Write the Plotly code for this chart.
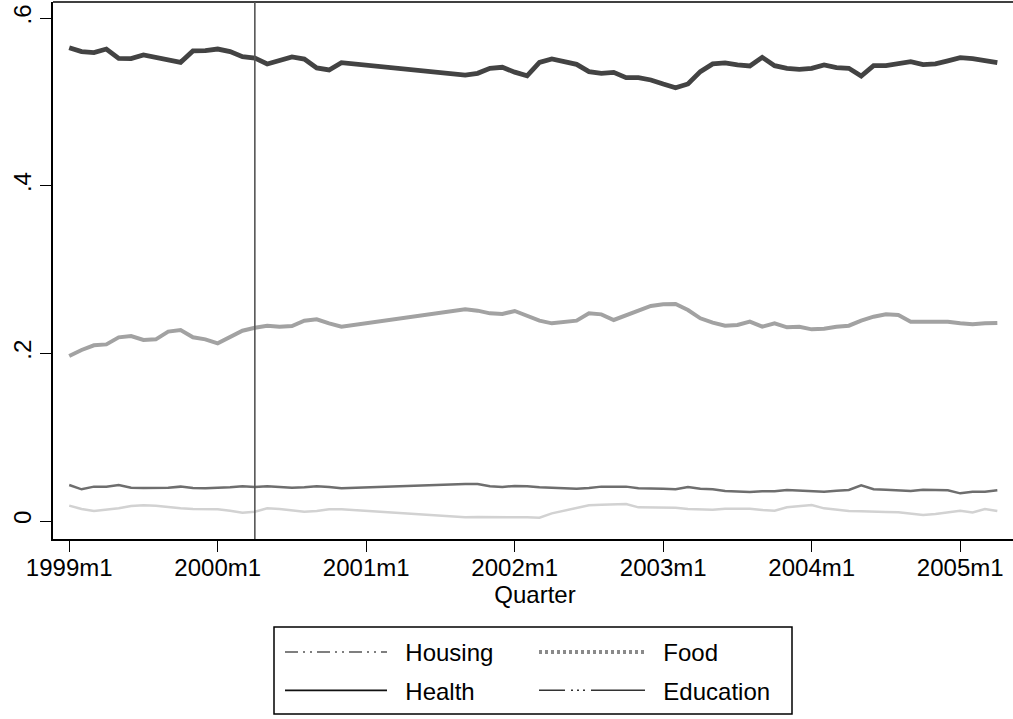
import plotly.graph_objects as go
import pandas as pd

# ---------------- data ----------------
# monthly observations 1999m1 .. 2005m4; 2000m12 .. 2001m8 are missing
all_months = pd.period_range("1999-01", "2005-04", freq="M")
missing_months = set(pd.period_range("2000-12", "2001-08", freq="M"))
months = [p for p in all_months if p not in missing_months]
month_labels = [f"{p.year}m{p.month}" for p in months]

health = [0.5646, 0.5599, 0.5587, 0.5630, 0.5519, 0.5515, 0.5559, 0.5531, 0.5511, 0.5471,
          0.5607, 0.5611, 0.5630, 0.5599, 0.5539, 0.5523, 0.5452, 0.5499, 0.5535, 0.5511,
          0.5404, 0.5380, 0.5468,
          0.5320, 0.5340, 0.5400, 0.5412, 0.5354, 0.5310, 0.5470, 0.5511, 0.5480, 0.5447,
          0.5360, 0.5340, 0.5352, 0.5289, 0.5289, 0.5261, 0.5213, 0.5169, 0.5213, 0.5360,
          0.5452, 0.5464, 0.5440, 0.5428, 0.5531, 0.5432, 0.5400, 0.5388, 0.5400, 0.5440,
          0.5408, 0.5400, 0.5308, 0.5432, 0.5432, 0.5459, 0.5480, 0.5444, 0.5452, 0.5488,
          0.5527, 0.5515, 0.5487, 0.5468]

food = [0.1968, 0.2040, 0.2096, 0.2107, 0.2191, 0.2207, 0.2159, 0.2167, 0.2259, 0.2278,
        0.2191, 0.2167, 0.2119, 0.2199, 0.2270, 0.2306, 0.2330, 0.2318, 0.2326, 0.2390,
        0.2406, 0.2358, 0.2318,
        0.2525, 0.2509, 0.2477, 0.2469, 0.2505, 0.2449, 0.2390, 0.2358, 0.2374, 0.2390,
        0.2477, 0.2465, 0.2398, 0.2457, 0.2517, 0.2565, 0.2585, 0.2589, 0.2517, 0.2418,
        0.2366, 0.2330, 0.2338, 0.2378, 0.2318, 0.2358, 0.2310, 0.2318, 0.2286, 0.2294,
        0.2318, 0.2330, 0.2390, 0.2437, 0.2465, 0.2457, 0.2378, 0.2378, 0.2378, 0.2378,
        0.2358, 0.2346, 0.2358, 0.2362]

education = [0.0429, 0.0378, 0.0410, 0.0410, 0.0429, 0.0398, 0.0394, 0.0394, 0.0398, 0.0410,
             0.0394, 0.0390, 0.0394, 0.0402, 0.0414, 0.0406, 0.0414, 0.0406, 0.0398, 0.0402,
             0.0414, 0.0406, 0.0390,
             0.0441, 0.0441, 0.0414, 0.0406, 0.0418, 0.0415, 0.0402, 0.0394, 0.0390, 0.0386,
             0.0394, 0.0410, 0.0410, 0.0410, 0.0390, 0.0390, 0.0386, 0.0378, 0.0406, 0.0386,
             0.0378, 0.0358, 0.0350, 0.0346, 0.0354, 0.0354, 0.0370, 0.0362, 0.0350, 0.0350,
             0.0362, 0.0370, 0.0425, 0.0378, 0.0374, 0.0366, 0.0358, 0.0374, 0.0366, 0.0366,
             0.0330, 0.0350, 0.0350, 0.0366]

housing = [0.0183, 0.0143, 0.0119, 0.0131, 0.0151, 0.0179, 0.0187, 0.0183, 0.0163, 0.0151,
           0.0143, 0.0139, 0.0139, 0.0123, 0.0099, 0.0111, 0.0151, 0.0143, 0.0123, 0.0111,
           0.0119, 0.0139, 0.0139,
           0.0044, 0.0048, 0.0044, 0.0044, 0.0044, 0.0044, 0.0040, 0.0091, 0.0123, 0.0151,
           0.0187, 0.0195, 0.0199, 0.0203, 0.0163, 0.0163, 0.0163, 0.0159, 0.0143, 0.0143,
           0.0135, 0.0147, 0.0147, 0.0147, 0.0131, 0.0123, 0.0163, 0.0179, 0.0191, 0.0151,
           0.0131, 0.0119, 0.0115, 0.0115, 0.0107, 0.0103, 0.0087, 0.0072, 0.0084, 0.0103,
           0.0123, 0.0103, 0.0143, 0.0119]

x_tick_labels = ["1999m1", "2000m1", "2001m1", "2002m1", "2003m1", "2004m1", "2005m1"]
y_tick_values = [0, 0.2, 0.4, 0.6]
y_tick_labels = ["0", ".2", ".4", ".6"]
event_month_label = "2000m4"


def month_index(label):
    y, m = label.split("m")
    return (int(y) - 1999) * 12 + int(m) - 1


x = [month_index(l) for l in month_labels]
x_tick_vals = [month_index(l) for l in x_tick_labels]

FONT = "Liberation Sans, Arial, Helvetica, sans-serif"

fig = go.Figure()

# data lines (drawn back to front)
series = [
    ("Housing", housing, "#d2d2d2", 2.5),
    ("Education", education, "#6e6e6e", 2.5),
    ("Food", food, "#a2a2a2", 4.0),
    ("Health", health, "#434343", 4.8),
]
for name, vals, col, w in series:
    fig.add_trace(go.Scatter(x=x, y=vals, mode="lines", name=name, showlegend=False,
                             line=dict(color=col, width=w), hoverinfo="skip"))

# legend keys (styles as in the reference legend)
NB = "\u00a0\u00a0"
legend_keys = [
    ("Housing", "legend", "g1", dict(color="#555555", width=1.5, dash="13px,5px,2px,5px,2px,5px")),
    ("Health", "legend", "g2", dict(color="#111111", width=1.8)),
    ("Food", "legend2", "g3", dict(color="#8a8a8a", width=4, dash="3px,3px")),
    ("Education", "legend2", "g4", dict(color="#333333", width=1.5,
                                        dash="26px,6px,2px,4px,2px,4px,2px,6px,120px")),
]
for name, lg, grp, ln in legend_keys:
    fig.add_trace(go.Scatter(x=[None], y=[None], mode="lines", name=NB + name,
                             legend=lg, legendgroup=grp, line=ln, showlegend=True))

# the plot region runs past the right edge of the 1013 px window, as in the reference
W, H = 1017, 719
ml, mr, mt, mb = 53, 0, 2, 180
pw, ph = W - ml - mr, H - mt - mb
px_per_month = 12.375
x0_month = -1.31


def px_to_paper_x(px):
    return (px - ml) / pw


def px_to_paper_y(py):
    return (H - mb - py) / ph


legend_common = dict(
    orientation="v", xanchor="left", yanchor="top", bgcolor="rgba(0,0,0,0)",
    borderwidth=0, font=dict(family=FONT, size=24, color="#000000"),
    tracegroupgap=4, traceorder="grouped",
)

fig.update_layout(
    width=W, height=H,
    margin=dict(l=ml, r=mr, t=mt, b=mb, pad=0),
    paper_bgcolor="white", plot_bgcolor="white",
    font=dict(family=FONT, size=24, color="#000000"),
    showlegend=True,
    legend=dict(x=px_to_paper_x(280), y=px_to_paper_y(630), itemwidth=102, **legend_common),
    legend2=dict(x=px_to_paper_x(534), y=px_to_paper_y(630), itemwidth=106, **legend_common),
    xaxis=dict(
        range=[x0_month, x0_month + pw / px_per_month], tickmode="array",
        tickvals=x_tick_vals, ticktext=x_tick_labels,
        showgrid=False, zeroline=False, showline=True, linecolor="#000000", linewidth=1.5,
        ticks="outside", ticklen=11, tickwidth=1.2, tickcolor="#000000", ticklabelstandoff=-5,
        tickfont=dict(family=FONT, size=24, color="#000000"),
        title=dict(text="Quarter", font=dict(family=FONT, size=24, color="#000000"), standoff=2),
    ),
    yaxis=dict(
        range=[-0.02147, 0.6191], tickmode="array", tickvals=y_tick_values, ticktext=y_tick_labels,
        tickangle=-90, showgrid=False, zeroline=False, showline=True, linecolor="#000000",
        linewidth=1.5, ticks="outside", ticklen=11, tickwidth=1.2, tickcolor="#000000",
        tickfont=dict(family=FONT, size=24, color="#000000"),
    ),
)

# top frame line of the plot region
fig.add_shape(type="line", xref="paper", yref="paper", x0=0, x1=1, y0=1, y1=1,
              line=dict(color="#000000", width=1.5))

# legend frame
fig.add_shape(type="rect", xref="paper", yref="paper",
              x0=px_to_paper_x(274), x1=px_to_paper_x(792),
              y0=px_to_paper_y(714), y1=px_to_paper_y(627),
              line=dict(color="#000000", width=1.5), fillcolor="rgba(0,0,0,0)")

# reference line at 2000m4
fig.add_vline(x=month_index(event_month_label), line=dict(color="#555555", width=1.6), layer="above")

fig.write_html("out.html", config={"displayModeBar": False},
               post_script="document.body.style.margin='0';document.body.style.overflow='hidden';")
